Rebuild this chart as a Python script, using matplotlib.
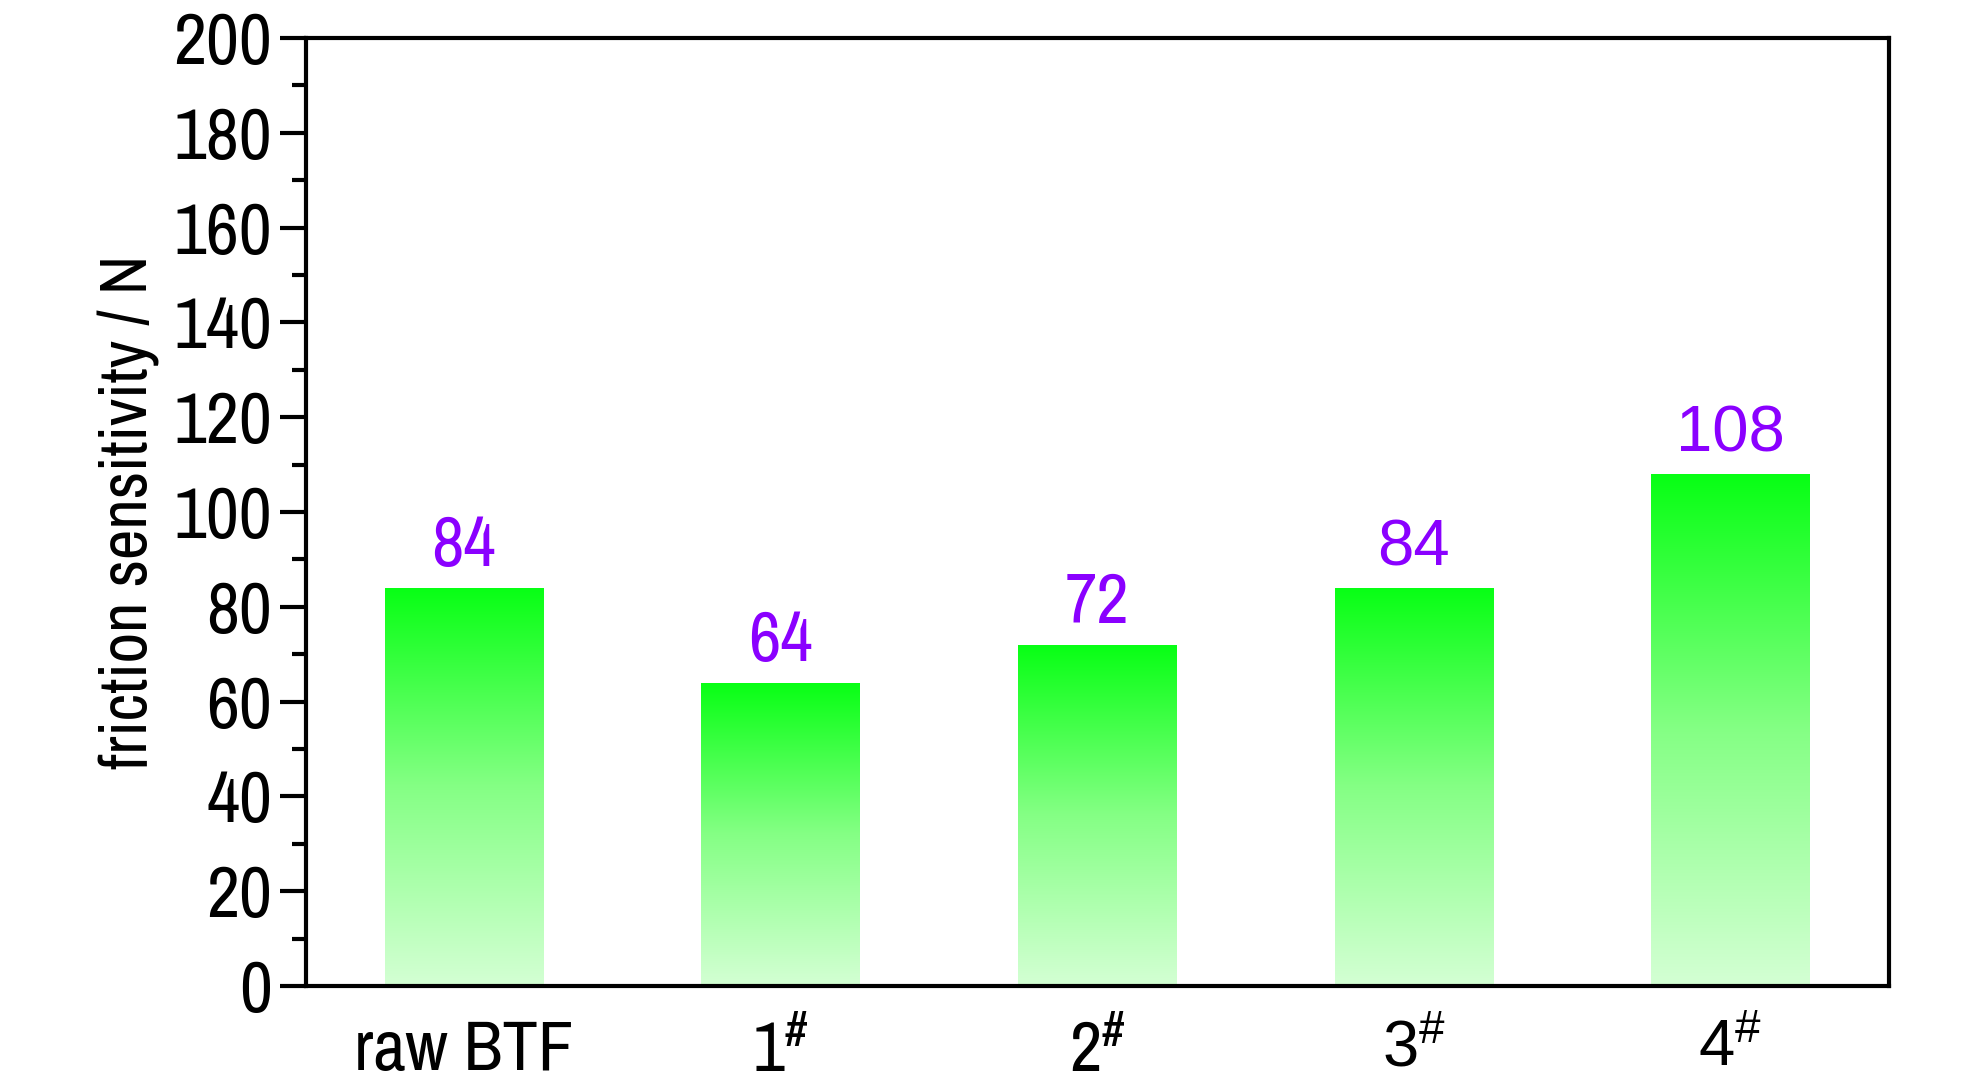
import numpy as np
import matplotlib
matplotlib.use('Agg')
import matplotlib.pyplot as plt
from matplotlib.colors import LinearSegmentedColormap
from matplotlib.ticker import MultipleLocator

# 数据
categories = ['raw BTF', '1', '2', '3', '4']
friction = [84, 64, 72, 84, 108]

narrow = ['Archivo Narrow', 'Liberation Sans', 'DejaVu Sans']
normal = ['Liberation Sans', 'DejaVu Sans']
plt.rcParams['font.family'] = narrow

fig = plt.figure(figsize=(19.84, 10.87), dpi=100)
ax = fig.add_axes([0.154, 0.093, 0.798, 0.872])

x = np.arange(len(categories))
bars = ax.bar(x, friction, width=0.5, color='none', edgecolor='none', zorder=2)

# 渐变填充：顶部亮绿，底部浅绿
cmap = LinearSegmentedColormap.from_list('grn', [(0.83, 1.0, 0.83), (0.52, 1.0, 0.52), (0.03, 1.0, 0.08)])
grad = np.linspace(0, 1, 256).reshape(-1, 1)
for b in bars:
    x0 = b.get_x()
    h = b.get_height()
    im = ax.imshow(grad, extent=[x0, x0 + b.get_width(), 0, h], origin='lower',
                   aspect='auto', cmap=cmap, zorder=2)
    im.set_clip_path(b)

# 数值标注
for i, (xi, v) in enumerate(zip(x, friction)):
    ax.annotate(str(v), (xi, v), xytext=(0, 7), textcoords='offset points',
                ha='center', va='bottom', fontsize=51 if i < 3 else 47, color='#8a00ff',
                family=narrow if i < 3 else normal)

ax.set_xlim(-0.5, 4.5)
ax.set_ylim(0, 200)
ax.yaxis.set_major_locator(MultipleLocator(20))
ax.yaxis.set_minor_locator(MultipleLocator(10))

labels = [categories[0]] + [r'$\mathregular{%s^{\#}}$' % c for c in categories[1:]]
ax.set_xticks(x)
ax.set_xticklabels(labels)
for i, t in enumerate(ax.get_xticklabels()):
    t.set_family(narrow if i < 3 else normal)
    t.set_fontsize(51 if i < 3 else 47)

ax.tick_params(axis='x', length=0, pad=24)
ax.tick_params(axis='y', which='major', direction='out', length=19, width=3, labelsize=52, pad=5)
ax.tick_params(axis='y', which='minor', direction='out', length=10, width=3)
ax.tick_params(top=False, right=False)

for s in ax.spines.values():
    s.set_linewidth(3)

ax.set_ylabel('friction sensitivity / N', fontsize=48, labelpad=10)

plt.savefig('out.png', dpi=100)
